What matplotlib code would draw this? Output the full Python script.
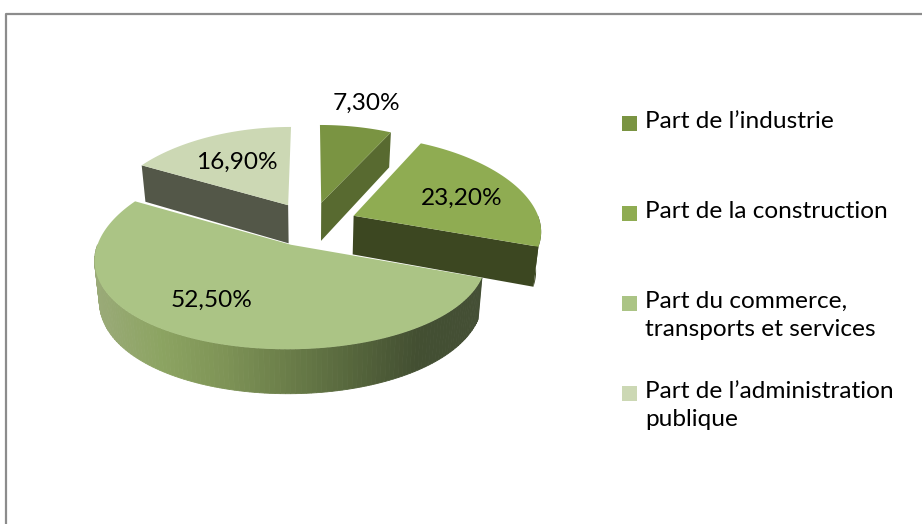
import numpy as np
import matplotlib
matplotlib.use('Agg')
from matplotlib import pyplot as plt
from matplotlib.patches import Polygon, Rectangle

plt.rcParams['font.family'] = ['Lato', 'DejaVu Sans']

# data
labels = ['Part de l\u2019industrie',
          'Part de la construction',
          'Part du commerce,\ntransports et services',
          'Part de l\u2019administration\npublique']
values = [7.30, 23.20, 52.50, 16.90]
value_text = ['7,30%', '23,20%', '52,50%', '16,90%']

top_colors = ['#7A9442', '#8FAC52', '#ABC485', '#CCD8B4']
wall_colors = ['#586A30', '#3C4721', '#4A5636', '#535748']
# gradient for the front wall of the big slice (left -> right)
front_grad = ['#9AAA78', '#8CA462', '#7E9356', '#6A7D49', '#56663C', '#434F32', '#444F35']

# label placement: radius (fraction of R) and angle nudge in degrees
label_r = [1.345, 0.646, 0.67, 0.615]
label_dang = [0.0, 3.5, 8.5, 0.0]

# projection of the "3D" pie (pixel space)
CX, CY = 311, 224
K, KY = 187, 89.6
AX, AY = 0.149, 0.10
H = 39
BZ = 0.022      # slight narrowing towards the bottom of the walls
EXPLODE = 0.249


def proj(X, Y, Z=0.0):
    X = np.asarray(X, float)
    Y = np.asarray(Y, float)
    Z = np.asarray(Z, float)
    x = CX + K * X / (1 + AX * Y) * (1 - BZ * Z)
    y = CY - KY * Y / (1 + AY * Y) + H * Z / (1 + AY * Y)
    return x, y


def rim(ax0, ay0, t0, t1, Z=0.0, n=60):
    t = np.radians(np.linspace(t0, t1, n))
    return proj(ax0 + np.sin(t), ay0 + np.cos(t), Z)


fig = plt.figure(figsize=(9.22, 5.24), dpi=100)
ax = fig.add_axes([0, 0, 1, 1])
ax.set_xlim(0, 922)
ax.set_ylim(524, 0)
ax.axis('off')

# chart border
ax.plot([5.5, 5.5, 922], [524, 13.5, 13.5], color='#8C8C8C', lw=1.6,
        solid_capstyle='butt', zorder=1)

total = sum(values)
bounds = np.concatenate([[0], np.cumsum(values) / total * 360])

slices = []
for i in range(len(values)):
    t0, t1 = bounds[i], bounds[i + 1]
    mid = np.radians((t0 + t1) / 2)
    slices.append((i, t0, t1, EXPLODE * np.sin(mid), EXPLODE * np.cos(mid)))

# back to front
order = [3, 0, 1, 2]
z = 2
for i in order:
    _, t0, t1, ox, oy = slices[i]
    # radial walls
    for ang, sign in ((t0, -1), (t1, 1)):
        nrm = np.radians(ang + sign * 90)
        if np.cos(nrm) < -1e-3:
            a = np.radians(ang)
            xs, ys = proj([ox, ox + np.sin(a), ox + np.sin(a), ox],
                          [oy, oy + np.cos(a), oy + np.cos(a), oy],
                          [0, 0, 1, 1])
            ax.add_patch(Polygon(np.c_[xs, ys], closed=True,
                                 fc=wall_colors[i], ec='none', zorder=z))
    # outer wall (front half only)
    a0, a1 = max(t0, 90), min(t1, 270)
    if a1 > a0:
        if i == 2:
            nseg = 120
            edges = np.linspace(a0, a1, nseg + 1)
            xt, _ = rim(ox, oy, a0, a1, 0, nseg + 1)
            gx = np.linspace(xt.min(), xt.max(), len(front_grad))
            cols = np.array([matplotlib.colors.to_rgb(c) for c in front_grad])
            for k in range(nseg):
                xa, ya = rim(ox, oy, edges[k], edges[k + 1], 0, 4)
                xb, yb = rim(ox, oy, edges[k + 1], edges[k], 1, 4)
                xm = xa.mean()
                c = [np.interp(xm, gx, cols[:, j]) for j in range(3)]
                ax.add_patch(Polygon(np.c_[np.r_[xa, xb], np.r_[ya, yb]],
                                     closed=True, fc=c, ec=c, lw=0.6, zorder=z))
        else:
            xa, ya = rim(ox, oy, a0, a1, 0)
            xb, yb = rim(ox, oy, a1, a0, 1)
            ax.add_patch(Polygon(np.c_[np.r_[xa, xb], np.r_[ya, yb]],
                                 closed=True, fc=wall_colors[i], ec='none', zorder=z))
    # top face
    xa, ya = rim(ox, oy, t0, t1, 0, 120)
    px, py = proj(ox, oy)
    ax.add_patch(Polygon(np.c_[np.r_[px, xa], np.r_[py, ya]], closed=True,
                         fc=top_colors[i], ec='none', zorder=z + 0.5))
    z += 1

# value labels
for i in range(len(values)):
    _, t0, t1, ox, oy = slices[i]
    a = np.radians((t0 + t1) / 2 + label_dang[i])
    lx, ly = proj(ox + label_r[i] * np.sin(a), oy + label_r[i] * np.cos(a))
    ax.text(lx, ly, value_text[i], ha='center', va='center',
            fontsize=17.6, color='black', zorder=20)

# legend
leg_y = [123, 213, 303, 393]
for i, lab in enumerate(labels):
    ax.add_patch(Rectangle((622, leg_y[i] - 7), 15, 15, fc=top_colors[i],
                           ec='none', zorder=5))
    ax.text(645, leg_y[i] - 12, lab, ha='left', va='top', fontsize=17.6,
            linespacing=1.42, color='black', zorder=5)

fig.savefig('out.png', dpi=100)
